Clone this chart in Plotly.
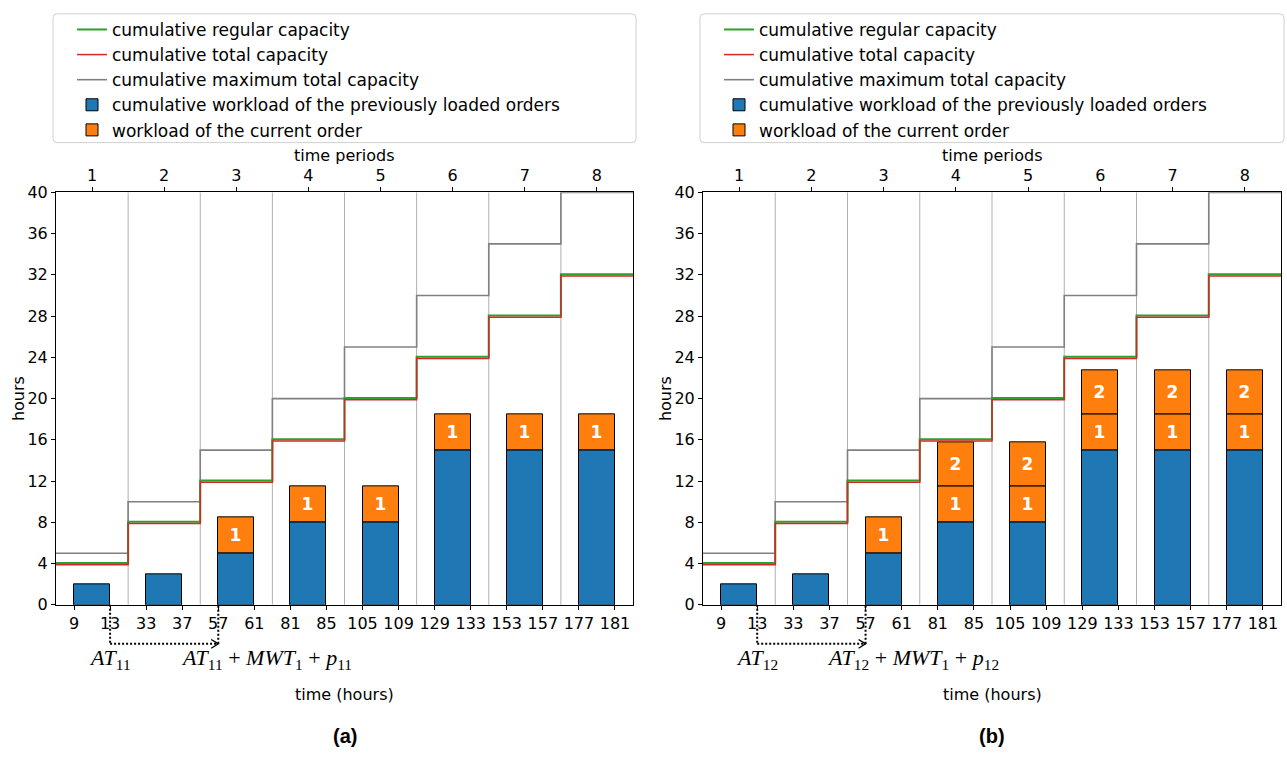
import plotly.graph_objects as go

W, H = 1287, 767

# ---------------- data ----------------
periods = [1, 2, 3, 4, 5, 6, 7, 8]
hour_ticks = [9, 13, 33, 37, 57, 61, 81, 85, 105, 109, 129, 133, 153, 157, 177, 181]
regular_capacity = [4, 8, 12, 16, 20, 24, 28, 32]
total_capacity = [4, 8, 12, 16, 20, 24, 28, 32]
max_total_capacity = [5, 10, 15, 20, 25, 30, 35, 40]
prev_workload = [2, 3, 5, 8, 8, 15, 15, 15]
order1_a = [None, None, 3.5, 3.5, 3.5, 3.5, 3.5, 3.5]
order1_b = [None, None, 3.5, 3.5, 3.5, 3.5, 3.5, 3.5]
order2_b = [None, None, None, 4.25, 4.25, 4.25, 4.25, 4.25]
arrival_hour = [13, 13]
due_hour = [57, 57]
at_labels = ["<i>AT</i><sub>11</sub>", "<i>AT</i><sub>12</sub>"]
due_labels = ["<i>AT</i><sub>11</sub> + <i>MWT</i><sub>1</sub> + <i>p</i><sub>11</sub>",
              "<i>AT</i><sub>12</sub> + <i>MWT</i><sub>1</sub> + <i>p</i><sub>12</sub>"]
panel_labels = ["(a)", "(b)"]
legend_names = ["cumulative regular capacity", "cumulative total capacity",
                "cumulative maximum total capacity",
                "cumulative workload of the previously loaded orders",
                "workload of the current order"]

# ---------------- helpers ----------------
def px(x):
    return x / W

def py(y):
    return 1 - y / H

BAR_W = 0.5
tick_pos = []
for p in periods:
    tick_pos += [p - BAR_W / 2, p + BAR_W / 2]

def hour_to_x(h):
    return tick_pos[hour_ticks.index(h)]

edges = [p - 0.5 for p in periods] + [periods[-1] + 0.5]

def step(vals):
    return vals + [vals[-1]]

FONT = "DejaVu Sans"
MATH = "Liberation Serif"
BLUE, ORANGE = "#1f77b4", "#ff7f0e"
GREEN, RED, GREY = "#2ca02c", "#d62728", "#808080"

panels = [dict(left=56, right=633), dict(left=703, right=1281)]
TOP, BOTTOM = 188, 611

fig = go.Figure()
shapes = []
annotations = []

def text_ann(x, y, text, size=16, family=FONT, angle=0, xref="paper"):
    return dict(x=x, y=y, xref=xref, yref="paper", text=text, showarrow=False,
                xanchor="center", yanchor="middle", textangle=angle,
                font=dict(family=family, size=size, color="black"))

for k, pan in enumerate(panels):
    xa = "x" if k == 0 else "x2"
    ya = "y" if k == 0 else "y2"
    xtop = "x3" if k == 0 else "x4"
    leg = "legend" if k == 0 else "legend2"
    o1 = order1_a if k == 0 else order1_b
    unit_px = (pan["right"] - pan["left"]) / (edges[-1] - edges[0])

    # bars
    fig.add_trace(go.Bar(x=periods, y=prev_workload, width=BAR_W, xaxis=xa, yaxis=ya,
                         marker=dict(color=BLUE, line=dict(color="black", width=1)),
                         name=legend_names[3], legend=leg, legendrank=4))
    idx1 = [i for i, v in enumerate(o1) if v is not None]
    fig.add_trace(go.Bar(x=[periods[i] for i in idx1], y=[o1[i] for i in idx1], width=BAR_W,
                         xaxis=xa, yaxis=ya, base=[prev_workload[i] for i in idx1],
                         marker=dict(color=ORANGE, line=dict(color="black", width=1)),
                         text=["<b>1</b>" for i in idx1],
                         textposition="inside", insidetextanchor="middle", textangle=0,
                         textfont=dict(color="white", size=17, family=FONT),
                         name=legend_names[4], legend=leg, legendrank=5))
    if k == 1:
        idx2 = [i for i, v in enumerate(order2_b) if v is not None]
        fig.add_trace(go.Bar(x=[periods[i] for i in idx2], y=[order2_b[i] for i in idx2],
                             width=BAR_W, xaxis=xa, yaxis=ya,
                             base=[prev_workload[i] + o1[i] for i in idx2],
                             marker=dict(color=ORANGE, line=dict(color="black", width=1)),
                             text=["<b>2</b>" for i in idx2],
                             textposition="inside", insidetextanchor="middle", textangle=0,
                             textfont=dict(color="white", size=17, family=FONT),
                             showlegend=False, legend=leg))

    # period boundary lines
    for e in edges[1:-1]:
        shapes.append(dict(type="line", xref=xa, yref=ya, x0=e, x1=e, y0=0, y1=40,
                           line=dict(color="#b0b0b0", width=1), layer="below"))

    # capacity step lines (drawn on the top axis, same range)
    fig.add_trace(go.Scatter(x=edges, y=step(max_total_capacity), mode="lines", line_shape="hv",
                             line=dict(color=GREY, width=1.6), xaxis=xtop, yaxis=ya,
                             name=legend_names[2], legend=leg, legendrank=3))
    fig.add_trace(go.Scatter(x=edges, y=[v + 0.06 for v in step(regular_capacity)], mode="lines",
                             line_shape="hv", line=dict(color=GREEN, width=2), xaxis=xtop, yaxis=ya,
                             name=legend_names[0], legend=leg, legendrank=1))
    fig.add_trace(go.Scatter(x=edges, y=[v - 0.1 for v in step(total_capacity)], mode="lines",
                             line_shape="hv", line=dict(color=RED, width=1.5), xaxis=xtop, yaxis=ya,
                             name=legend_names[1], legend=leg, legendrank=2))

    # dotted arrow annotation
    xa_ = hour_to_x(arrival_hour[k])
    xd_ = hour_to_x(due_hour[k])
    ARR_Y = 651
    dot = dict(color="black", width=2, dash="2px,2px")
    shapes.append(dict(type="line", xref=xa, yref="paper", x0=xa_, x1=xa_,
                       y0=py(BOTTOM), y1=py(ARR_Y), line=dot))
    shapes.append(dict(type="line", xref=xa, yref="paper", x0=xa_, x1=xd_,
                       y0=py(ARR_Y), y1=py(ARR_Y), line=dot))
    shapes.append(dict(type="line", xref=xa, yref="paper", x0=xd_, x1=xd_,
                       y0=py(ARR_Y), y1=py(BOTTOM), line=dot))
    hx = 7 / unit_px
    head = (f"M{xd_ - hx},{py(ARR_Y - 4.5)} L{xd_},{py(ARR_Y)} L{xd_ - hx},{py(ARR_Y + 4.5)}")
    shapes.append(dict(type="path", xref=xa, yref="paper", path=head,
                       line=dict(color="black", width=1.4)))
    annotations.append(text_ann(xa_, py(667), at_labels[k], size=22, family=MATH, xref=xa))
    annotations.append(text_ann(px(pan["left"] + (266 - 56)), py(667), due_labels[k],
                                size=22, family=MATH))

    cx = (pan["left"] + pan["right"]) / 2
    annotations.append(text_ann(px(cx), py(703), "time (hours)"))
    annotations.append(text_ann(px(cx), py(150), "time periods"))
    annotations.append(text_ann(px(pan["left"] - 38), py(400), "hours", angle=-90))
    annotations.append(text_ann(px(cx), py(745), "<b>" + panel_labels[k] + "</b>",
                                size=20, family="Liberation Sans"))

    # legend frame
    l, r, t, b = pan["left"] - 3, pan["right"] + 3, 5, 137
    rr = 4
    path = (f"M{px(l+rr)},{py(t)} L{px(r-rr)},{py(t)} Q{px(r)},{py(t)} {px(r)},{py(t+rr)} "
            f"L{px(r)},{py(b-rr)} Q{px(r)},{py(b)} {px(r-rr)},{py(b)} "
            f"L{px(l+rr)},{py(b)} Q{px(l)},{py(b)} {px(l)},{py(b-rr)} "
            f"L{px(l)},{py(t+rr)} Q{px(l)},{py(t)} {px(l+rr)},{py(t)} Z")
    shapes.append(dict(type="path", xref="paper", yref="paper", path=path,
                       line=dict(color="#d0d0d0", width=1), fillcolor="rgba(255,255,255,0.8)",
                       layer="below"))

axis_common = dict(showgrid=False, zeroline=False, showline=True, linecolor="black",
                   linewidth=1, ticks="outside", ticklen=4, tickcolor="black",
                   tickfont=dict(family=FONT, size=16, color="black"))

layout = dict(
    width=W, height=H, margin=dict(l=0, r=0, t=0, b=0),
    paper_bgcolor="white", plot_bgcolor="white",
    barmode="overlay", bargap=0, showlegend=True,
    shapes=shapes, annotations=annotations,
)
yd = [py(BOTTOM), py(TOP)]
for k, pan in enumerate(panels):
    xd = [px(pan["left"]), px(pan["right"])]
    xn = "xaxis" if k == 0 else "xaxis2"
    yn = "yaxis" if k == 0 else "yaxis2"
    tn = "xaxis3" if k == 0 else "xaxis4"
    yref = "y" if k == 0 else "y2"
    xref = "x" if k == 0 else "x2"
    layout[xn] = dict(axis_common, domain=xd, range=[0.5, 8.5], anchor=yref,
                      tickvals=tick_pos, ticktext=[str(h) for h in hour_ticks], mirror=False)
    layout[tn] = dict(axis_common, domain=xd, range=[0.5, 8.5], anchor=yref, overlaying=xref,
                      side="top", tickvals=periods, ticktext=[str(p) for p in periods])
    layout[yn] = dict(axis_common, domain=yd, range=[0, 40], anchor=xref,
                      tickvals=list(range(0, 41, 4)), mirror=True)
    lg = dict(x=px(pan["left"] + 16), y=py(3), xanchor="left", yanchor="top",
              bgcolor="rgba(0,0,0,0)", borderwidth=0, tracegroupgap=0,
              font=dict(family=FONT, size=17, color="black"), itemwidth=30)
    layout["legend" if k == 0 else "legend2"] = lg

fig.update_layout(**layout)
fig.write_html("out.html")
